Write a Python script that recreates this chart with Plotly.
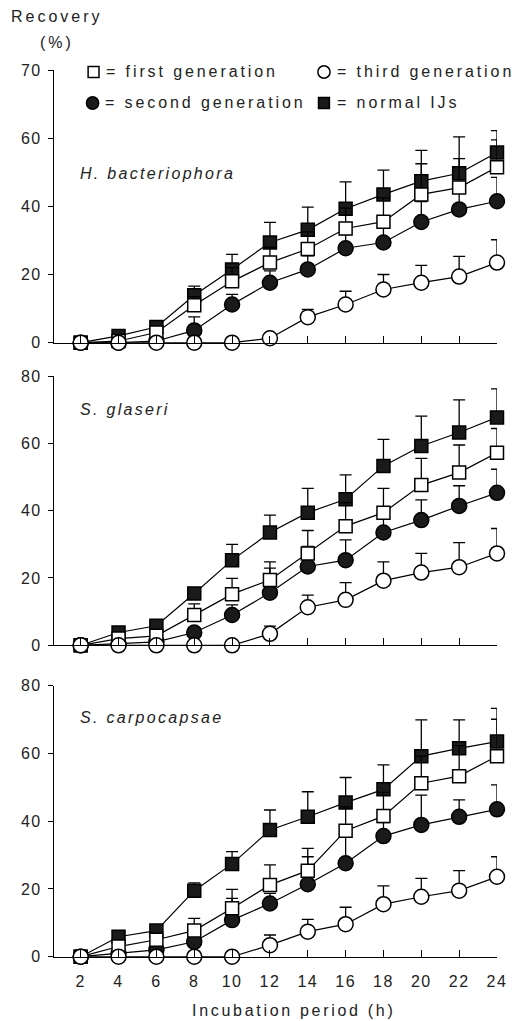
import plotly.graph_objects as go

hours = [2, 4, 6, 8, 10, 12, 14, 16, 18, 20, 22, 24]
y_ticks = [0, 20, 40, 60, 80]
y_ticktext_top = ["0", "20", "40", "60", "70"]
y_ticktext = ["0", "20", "40", "60", "80"]

species = ["H. bacteriophora", "S. glaseri", "S. carpocapsae"]
legend_names = ["first generation", "second generation", "third generation", "normal IJs"]

# H. bacteriophora
hb_first = [0, 0.5, 3, 11, 18, 23.5, 27.5, 33.5, 35.5, 43.5, 45.5, 51.5]
hb_first_sd = [0, 0, 0, 2.5, 4, 4.5, 5, 6, 7, 9, 8.5, 8]
hb_second = [0, 0, 0.5, 3.6, 11.2, 17.6, 21.5, 27.7, 29.4, 35.4, 39.1, 41.5]
hb_second_sd = [0, 0, 0, 4, 3, 3.5, 4, 4, 5, 6, 6, 7]
hb_third = [0, 0, 0, 0, 0, 1.3, 7.5, 11.2, 15.6, 17.6, 19.4, 23.5]
hb_third_sd = [0, 0, 0, 0, 0, 0.5, 2.3, 3.9, 4.4, 5.1, 5.9, 6.7]
hb_normal = [0, 2.0, 4.6, 13.9, 21.5, 29.4, 33.1, 39.3, 43.5, 47.4, 49.7, 55.8]
hb_normal_sd = [0, 0, 0.5, 2.7, 4.4, 5.9, 6.7, 7.9, 7.1, 9.0, 10.7, 6.4]

# S. glaseri
sg_first = [0, 2, 2.8, 9.0, 15.2, 19.4, 27.3, 35.4, 39.4, 47.6, 51.3, 57.2]
sg_first_sd = [0, 0, 0, 3.3, 4.7, 5.4, 6.8, 7, 7.2, 7.9, 8.2, 7.2]
sg_second = [0, 0.5, 1, 3.8, 9.0, 15.6, 23.4, 25.3, 33.5, 37.2, 41.4, 45.3]
sg_second_sd = [0, 0, 0, 1.5, 3, 7.3, 6, 6, 5, 6, 6, 7]
sg_third = [0, 0, 0, 0, 0, 3.4, 11.3, 13.5, 19.2, 21.6, 23.2, 27.3]
sg_third_sd = [0, 0, 0, 0, 0, 2.3, 3.6, 5.1, 5.6, 5.7, 7.3, 7.4]
sg_normal = [0, 3.8, 5.8, 15.4, 25.3, 33.5, 39.4, 43.4, 53.3, 59.2, 63.2, 67.7]
sg_normal_sd = [0, 0, 0.5, 1, 4.7, 5.2, 7.2, 7.2, 7.9, 8.9, 9.7, 8.5]

# S. carpocapsae
sc_first = [0, 3, 5, 7.7, 14.3, 21.2, 25.4, 37.2, 41.5, 51.2, 53.3, 59.2]
sc_first_sd = [0, 0, 0, 3.6, 5.6, 5.9, 6.6, 7, 7, 8, 9, 10.9]
sc_second = [0, 1, 2, 4.4, 10.8, 15.7, 21.4, 27.6, 35.6, 38.9, 41.3, 43.5]
sc_second_sd = [0, 0, 0, 1, 6.4, 3, 8.1, 8, 4, 8.8, 5, 7.2]
sc_third = [0, 0, 0, 0, 0, 3.4, 7.4, 9.6, 15.5, 17.7, 19.5, 23.6]
sc_third_sd = [0, 0, 0, 0, 0, 3, 3.6, 5, 5.4, 5.4, 5.9, 5.9]
sc_normal = [0, 5.9, 7.7, 19.5, 27.4, 37.4, 41.3, 45.5, 49.4, 59.2, 61.5, 63.5]
sc_normal_sd = [0, 0, 0.5, 2.3, 3.6, 5.9, 7.4, 7.4, 7.2, 10.7, 8.4, 9.8]

panels = [
    {"first": (hb_first, hb_first_sd), "second": (hb_second, hb_second_sd),
     "third": (hb_third, hb_third_sd), "normal": (hb_normal, hb_normal_sd)},
    {"first": (sg_first, sg_first_sd), "second": (sg_second, sg_second_sd),
     "third": (sg_third, sg_third_sd), "normal": (sg_normal, sg_normal_sd)},
    {"first": (sc_first, sc_first_sd), "second": (sc_second, sc_second_sd),
     "third": (sc_third, sc_third_sd), "normal": (sc_normal, sc_normal_sd)},
]

W, H = 519, 1021
ML, MR, MT, MB = 54, 17, 70, 64
PW = W - ML - MR
PH = H - MT - MB


def xp(px):
    return (px - ML) / PW


def yp(py):
    return (H - MB - py) / PH


# panel pixel extents (top, bottom)
panel_px = [(70, 342.7), (376, 645.3), (685.7, 956.7)]

FONT = "Liberation Sans, Arial, sans-serif"
TXT = "#222"


def sp(t, s=3):
    return f'<span style="letter-spacing:{s}px">{t}</span>'


styles = {
    "normal": dict(symbol="square", size=13, color="#1a1a1a"),
    "second": dict(symbol="circle", size=15, color="#1a1a1a"),
    "first": dict(symbol="square", size=13, color="white"),
    "third": dict(symbol="circle", size=15, color="white"),
}
order = ["normal", "second", "first", "third"]

fig = go.Figure()
for i, pdata in enumerate(panels):
    xa = "x" if i == 0 else f"x{i+1}"
    ya = "y" if i == 0 else f"y{i+1}"
    for key in order:
        vals, sd = pdata[key]
        st = styles[key]
        fig.add_trace(go.Scatter(
            x=hours, y=vals, xaxis=xa, yaxis=ya, mode="lines+markers",
            line=dict(color="black", width=1.2),
            marker=dict(symbol=st["symbol"], size=st["size"], color=st["color"],
                        line=dict(color="black", width=1.5)),
            error_y=dict(type="data", symmetric=False, array=sd,
                         arrayminus=[0] * len(sd), color="black",
                         thickness=1.3, width=6),
            cliponaxis=False, showlegend=False, name=key,
        ))

x_left = 2 - (81 - ML) / ((502 - 81) / 22)

layout = dict(
    width=W, height=H, margin=dict(l=ML, r=MR, t=MT, b=MB),
    paper_bgcolor="white", plot_bgcolor="white",
    font=dict(family=FONT, size=16, color=TXT),
    showlegend=False,
)
for i, (top, bot) in enumerate(panel_px):
    sx = "" if i == 0 else str(i + 1)
    layout[f"xaxis{sx}"] = dict(
        range=[x_left, 24],
        domain=[0, 1], anchor=f"y{sx}",
        tickvals=hours, ticktext=[sp(h, 1.5) for h in hours],
        showticklabels=(i == 2), ticks="inside", ticklen=7, tickwidth=1.2,
        tickcolor="black", showline=True, linecolor="black", linewidth=1.2,
        showgrid=False, zeroline=False, ticklabelstandoff=10,
        tickfont=dict(family=FONT, size=16, color=TXT),
    )
    layout[f"yaxis{sx}"] = dict(
        range=[0, 80], domain=[yp(bot), yp(top)], anchor=f"x{sx}",
        tickvals=y_ticks,
        ticktext=[sp(t, 1.5) for t in (y_ticktext_top if i == 0 else y_ticktext)],
        ticks="outside", ticklen=5, tickwidth=1.2, tickcolor="black",
        showline=True, linecolor="black", linewidth=1.2,
        showgrid=False, zeroline=False, ticklabelstandoff=3,
        tickfont=dict(family=FONT, size=16, color=TXT),
    )
fig.update_layout(**layout)

ann = []


def add_text(text, px, py, xanchor="left", italic=False, s=3):
    ann.append(dict(
        text=sp(text, s), x=xp(px), y=yp(py), xref="paper", yref="paper",
        xanchor=xanchor, yanchor="middle", showarrow=False,
        font=dict(family=FONT, size=16, color=TXT, style="italic" if italic else "normal"),
    ))


add_text("Recovery", 57, 16, "center")
add_text("(%)", 57, 43, "center")
add_text("Incubation period (h)", 296, 1010, "center", s=2.7)
add_text(species[0], 78, 173, italic=True, s=2.3)
add_text(species[1], 78, 409, italic=True, s=2.3)
add_text(species[2], 78, 717, italic=True, s=2.3)

# legend
leg = [
    ("first", legend_names[0], 94, 72),
    ("third", legend_names[2], 327, 72),
    ("second", legend_names[1], 93, 103),
    ("normal", legend_names[3], 327, 103),
]
shapes = []
for key, name, cx, cy in leg:
    st = styles[key]
    r = 5.5 if st["symbol"] == "square" else 6.2
    shapes.append(dict(
        type="rect" if st["symbol"] == "square" else "circle",
        xref="paper", yref="paper",
        x0=xp(cx - r), x1=xp(cx + r), y0=yp(cy + r), y1=yp(cy - r),
        line=dict(color="black", width=1.5), fillcolor=st["color"],
    ))
    add_text("= " + name, cx + 11, cy, s=2.9)

fig.update_layout(annotations=ann, shapes=shapes)
fig.write_html(
    "out.html",
    config={"displayModeBar": False},
    post_script="document.body.style.margin='0';document.body.style.overflow='hidden';",
)
